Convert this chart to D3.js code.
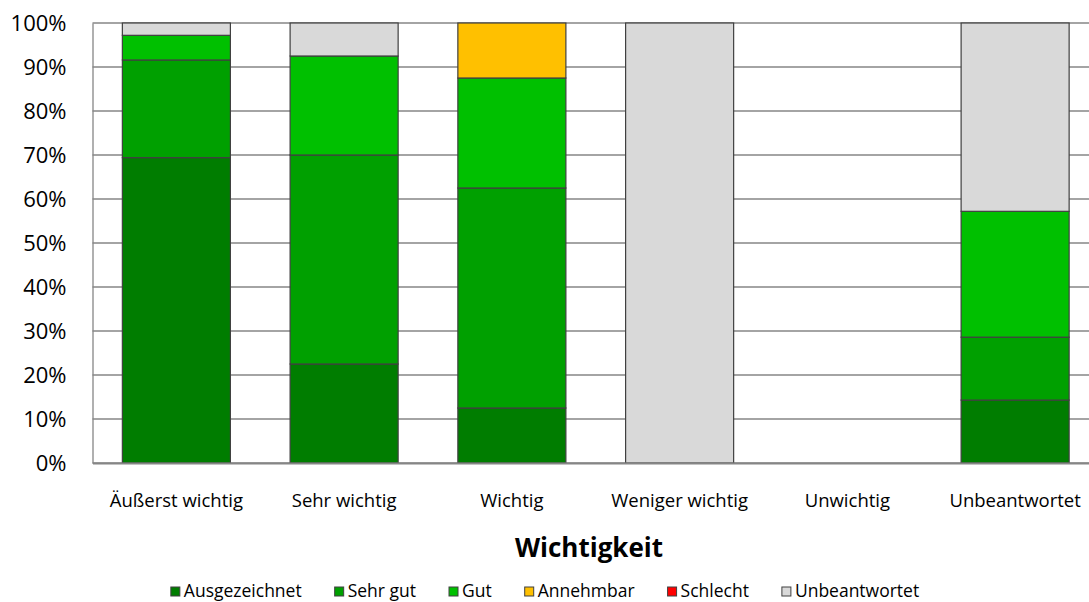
<!DOCTYPE html>
<html>
<head>
<meta charset="utf-8">
<script src="https://cdn.jsdelivr.net/npm/d3@7"></script>
<style>
    html, body { margin: 0; padding: 0; background: #fff; }
    svg { display: block; font-family: "Open Sans", sans-serif; }
</style>
</head>
<body>
<svg id="chart" width="1089" height="602"></svg>
<script>
(function () {
    'use strict';

    // data (percent of answers per importance level)
    let categories = ['Äußerst wichtig', 'Sehr wichtig', 'Wichtig', 'Weniger wichtig', 'Unwichtig', 'Unbeantwortet'];
    let seriesNames = ['Ausgezeichnet', 'Sehr gut', 'Gut', 'Annehmbar', 'Schlecht', 'Unbeantwortet'];
    let ausgezeichnet = [69.4, 22.5, 12.5, 0, 0, 14.3];
    let sehrGut = [22.2, 47.5, 50.0, 0, 0, 14.3];
    let gut = [5.6, 22.5, 25.0, 0, 0, 28.6];
    let annehmbar = [0, 0, 12.5, 0, 0, 0];
    let schlecht = [0, 0, 0, 0, 0, 0];
    let unbeantwortet = [2.8, 7.5, 0, 100, 0, 42.8];
    let yTicks = [0, 10, 20, 30, 40, 50, 60, 70, 80, 90, 100];
    let seriesColors = ['#007d00', '#00a000', '#00c000', '#ffc000', '#ff0000', '#d9d9d9'];

    let seriesValues = [ausgezeichnet, sehrGut, gut, annehmbar, schlecht, unbeantwortet];
    let rows = categories.map(function (c, i) {
        let row = { category: c };
        seriesNames.forEach(function (s, j) { row[s] = seriesValues[j][i]; });
        return row;
    });

    let plot = { left: 92.5, right: 1099, top: 23, bottom: 463 };
    let svg = d3.select('#chart');

    let x = d3.scaleBand()
        .domain(categories)
        .range([plot.left, plot.right])
        .paddingInner(0.356)
        .paddingOuter(0.178);
    let y = d3.scaleLinear()
        .domain([0, 100])
        .range([plot.bottom, plot.top]);
    let color = d3.scaleOrdinal().domain(seriesNames).range(seriesColors);

    // gridlines
    svg.append('g')
        .selectAll('line')
        .data(yTicks)
        .enter()
        .append('line')
        .attr('x1', plot.left)
        .attr('x2', plot.right)
        .attr('y1', function (d) { return y(d); })
        .attr('y2', function (d) { return y(d); })
        .style('stroke', '#868686')
        .style('stroke-width', 1.3);

    // y axis
    let yAxis = d3.axisLeft(y)
        .tickValues(yTicks)
        .tickFormat(function (d) { return d + '%'; })
        .tickSize(0)
        .tickPadding(26);
    let yg = svg.append('g')
        .attr('transform', 'translate(' + plot.left + ',0)')
        .call(yAxis)
        .attr('font-family', null);
    yg.select('.domain').style('stroke', '#868686').style('stroke-width', 1.3);
    yg.selectAll('text')
        .style('font-size', '22px')
        .style('fill', '#000');

    // stacked bars
    let stacked = d3.stack().keys(seriesNames)(rows);
    svg.append('g')
        .selectAll('g')
        .data(stacked)
        .enter()
        .append('g')
        .style('fill', function (d) { return color(d.key); })
        .selectAll('rect')
        .data(function (d) { return d.filter(function (p) { return p[1] - p[0] > 0; }); })
        .enter()
        .append('rect')
        .attr('x', function (d) { return x(d.data.category); })
        .attr('width', x.bandwidth())
        .attr('y', function (d) { return y(d[1]); })
        .attr('height', function (d) { return y(d[0]) - y(d[1]); })
        .style('stroke', '#404040')
        .style('stroke-width', 1.2);

    // x axis
    let xAxis = d3.axisBottom(x).tickSize(0).tickPadding(44);
    let xg = svg.append('g')
        .attr('transform', 'translate(0,' + plot.bottom + ')')
        .call(xAxis)
        .attr('font-family', null);
    xg.select('.domain').style('stroke', '#868686').style('stroke-width', 2);
    xg.selectAll('text')
        .style('font-size', '18.5px')
        .style('fill', '#000')
        .attr('dy', 0);

    // axis title
    svg.append('text')
        .attr('x', 589)
        .attr('y', 557)
        .attr('text-anchor', 'middle')
        .style('font-size', '26px')
        .style('font-weight', 'bold')
        .text('Wichtigkeit');

    // legend
    let legend = svg.append('g');
    let items = legend.selectAll('g')
        .data(seriesNames)
        .enter()
        .append('g');
    items.append('rect')
        .attr('width', 9)
        .attr('height', 9)
        .attr('y', -10)
        .style('fill', function (d) { return color(d); })
        .style('stroke', '#404040')
        .style('stroke-width', 1);
    items.append('text')
        .attr('x', 13)
        .style('font-size', '17.5px')
        .text(function (d) { return d; });

    let offset = 0;
    let gap = 33;
    items.each(function () {
        let w = this.getBBox().width;
        d3.select(this).attr('data-x', offset);
        offset += w + gap;
    });
    let total = offset - gap;
    let start = 545 - total / 2;
    items.attr('transform', function () {
        return 'translate(' + (start + (+this.getAttribute('data-x'))) + ',597)';
    });
})();
</script>
</body>
</html>
